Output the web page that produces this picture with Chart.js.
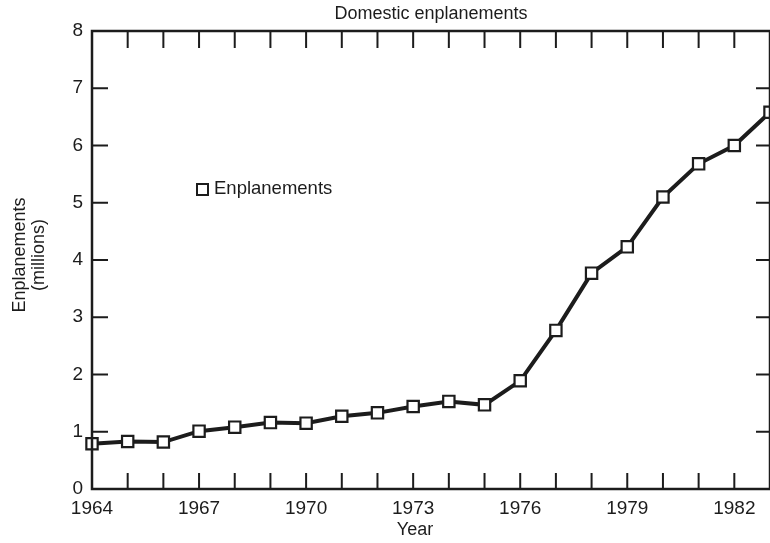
<!DOCTYPE html>
<html>
<head>
<meta charset="utf-8">
<script src="https://cdn.jsdelivr.net/npm/chart.js@4"></script>
<style>
  html, body { margin: 0; padding: 0; background: #fff; }
  #wrap { width: 770px; height: 543px; }
</style>
</head>
<body>
<div id="wrap"><canvas id="chart" width="770" height="543"></canvas></div>
<script>
// data
const years = [1964, 1965, 1966, 1967, 1968, 1969, 1970, 1971, 1972, 1973,
  1974, 1975, 1976, 1977, 1978, 1979, 1980, 1981, 1982, 1983];
const enplanements = [0.79, 0.83, 0.82, 1.01, 1.08, 1.16, 1.15, 1.27, 1.33, 1.44,
  1.53, 1.47, 1.89, 2.77, 3.77, 4.23, 5.10, 5.68, 6.00, 6.58];
const yearLabels = [1964, 1967, 1970, 1973, 1976, 1979, 1982];
const seriesName = "Enplanements";

const ink = "#1c1c1c";
const fontFamily = "'Liberation Sans', Arial, sans-serif";

// frame, inward ticks and the extra text
const decorations = {
  id: "decorations",
  afterDraw(chart) {
    const { ctx, chartArea: a, scales } = chart;
    const x = scales.x, y = scales.y;
    ctx.save();
    ctx.strokeStyle = ink;
    ctx.lineWidth = 2.5;
    ctx.strokeRect(a.left, a.top, a.right - a.left, a.bottom - a.top);

    ctx.lineWidth = 2;
    ctx.beginPath();
    for (let yr = years[0] + 1; yr < years[years.length - 1]; yr++) {
      const px = x.getPixelForValue(yr);
      ctx.moveTo(px, a.bottom);
      ctx.lineTo(px, a.bottom - 16);
      ctx.moveTo(px, a.top);
      ctx.lineTo(px, a.top + 17);
    }
    for (let v = 1; v < 8; v++) {
      const py = y.getPixelForValue(v);
      ctx.moveTo(a.left, py);
      ctx.lineTo(a.left + 16, py);
      ctx.moveTo(a.right, py);
      ctx.lineTo(a.right - 14, py);
    }
    ctx.stroke();

    ctx.fillStyle = ink;
    ctx.textAlign = "center";
    ctx.textBaseline = "middle";
    ctx.font = "18px " + fontFamily;
    ctx.fillText("Domestic enplanements", (a.left + a.right) / 2, 14);
    ctx.fillText("Year", 415, 530);

    ctx.save();
    ctx.translate(20, 255);
    ctx.rotate(-Math.PI / 2);
    ctx.fillText("Enplanements", 0, 0);
    ctx.fillText("(millions)", 0, 19);
    ctx.restore();

    // legend
    ctx.lineWidth = 2;
    ctx.fillStyle = "#fff";
    ctx.fillRect(197, 184, 11, 11);
    ctx.strokeRect(197, 184, 11, 11);
    ctx.fillStyle = ink;
    ctx.textAlign = "left";
    ctx.font = "18.5px " + fontFamily;
    ctx.fillText(seriesName, 214, 189);
    ctx.restore();
  },
};

new Chart(document.getElementById("chart"), {
  type: "line",
  data: {
    datasets: [
      {
        label: seriesName,
        data: years.map((yr, i) => ({ x: yr, y: enplanements[i] })),
        borderColor: ink,
        borderWidth: 4,
        pointStyle: "rect",
        pointRadius: 8,
        pointBorderWidth: 2.2,
        pointBackgroundColor: "#fff",
        pointBorderColor: ink,
        tension: 0,
        clip: false,
      },
    ],
  },
  options: {
    responsive: false,
    animation: false,
    layout: { autoPadding: false, padding: { top: 31, right: 0, left: 0, bottom: 0 } },
    plugins: {
      legend: { display: false },
      title: { display: false },
      tooltip: { enabled: false },
    },
    scales: {
      x: {
        type: "linear",
        min: years[0],
        max: years[years.length - 1],
        grid: { display: false, drawTicks: false },
        border: { display: false },
        afterFit: (s) => {
          s.height = 54;
          s.paddingRight = 0;
          s.paddingLeft = 0;
        },
        ticks: {
          stepSize: 1,
          autoSkip: false,
          maxRotation: 0,
          padding: 8,
          color: ink,
          font: { family: fontFamily, size: 19 },
          callback: (v) => (yearLabels.includes(v) ? String(v) : ""),
        },
      },
      y: {
        min: 0,
        max: 8,
        grid: { display: false, drawTicks: false },
        border: { display: false },
        afterFit: (s) => { s.width = 92; },
        ticks: {
          stepSize: 1,
          padding: 9,
          color: ink,
          font: { family: fontFamily, size: 19 },
        },
      },
    },
  },
  plugins: [decorations],
});
</script>
</body>
</html>
